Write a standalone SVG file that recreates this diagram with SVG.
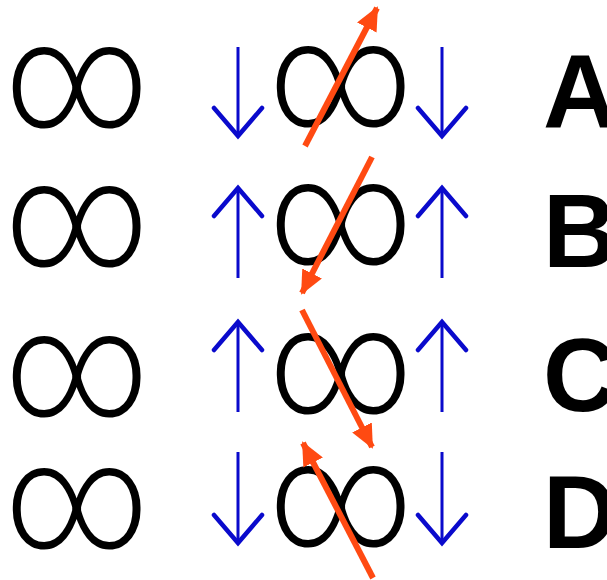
<svg xmlns="http://www.w3.org/2000/svg" width="607" height="580" viewBox="0 0 607 580">
<defs>
<style>
.inf{font-family:Roboto,"DejaVu Sans",sans-serif;font-size:120px;font-weight:300;text-anchor:middle;fill:#000}
.lbl{font-family:"Liberation Sans",Arial,sans-serif;font-size:103px;font-weight:bold;fill:#000}
.blue{stroke:#0a0acc;stroke-width:3;fill:none}
.bhead{stroke:#0a0acc;stroke-width:4.5;fill:none;stroke-linejoin:miter;stroke-linecap:round}
.orange{stroke:#ff4a12;stroke-width:6;fill:none;marker-end:url(#oh)}
</style>
<marker id="oh" markerUnits="userSpaceOnUse" viewBox="0 0 24 22" refX="22" refY="11" markerWidth="24" markerHeight="22" orient="auto">
<path d="M0,0 L24,11 L0,22 Z" fill="#ff4a12"/>
</marker>
</defs>
<rect width="607" height="580" fill="#fff"/>
<g id="row-a">
<text class="inf" transform="translate(77,87.5) scale(1.14,1.24)" y="32">∞</text>
<text class="inf" transform="translate(341,86.5) scale(1.14,1.24)" y="32">∞</text>
</g>
<g id="row-b">
<text class="inf" transform="translate(77,226) scale(1.14,1.24)" y="32">∞</text>
<text class="inf" transform="translate(341,224) scale(1.14,1.24)" y="32">∞</text>
</g>
<g id="row-c">
<text class="inf" transform="translate(77,376) scale(1.14,1.24)" y="32">∞</text>
<text class="inf" transform="translate(341,373.5) scale(1.14,1.24)" y="32">∞</text>
</g>
<g id="row-d">
<text class="inf" transform="translate(77,508.5) scale(1.14,1.24)" y="32">∞</text>
<text class="inf" transform="translate(341,506.5) scale(1.14,1.24)" y="32">∞</text>
</g>
<g id="labels">
<text class="lbl" x="543" y="127">A</text>
<text class="lbl" x="543" y="267">B</text>
<text class="lbl" x="543" y="411">C</text>
<text class="lbl" x="543" y="548">D</text>
</g>
<g id="connectors">
<g id="blue-arrows">
<path class="blue" d="M238,47 V136 M442,47 V136"/>
<path class="bhead" d="M214,108 L238,136 L262,108 M418,108 L442,136 L466,108"/>
<path class="blue" d="M238,187 V278 M442,187 V278"/>
<path class="bhead" d="M214,216 L238,188 L262,216 M418,216 L442,188 L466,216"/>
<path class="blue" d="M238,322 V412 M442,322 V412"/>
<path class="bhead" d="M214,350 L238,322 L262,350 M418,350 L442,322 L466,350"/>
<path class="blue" d="M238,452 V543 M442,452 V543"/>
<path class="bhead" d="M214,515 L238,543 L262,515 M418,515 L442,543 L466,515"/>
</g>
<g id="orange-arrows">
<line class="orange" x1="305" y1="146" x2="377" y2="8"/>
<line class="orange" x1="372" y1="157" x2="302" y2="293"/>
<line class="orange" x1="302" y1="310" x2="372" y2="447"/>
<line class="orange" x1="373" y1="578" x2="303" y2="443"/>
</g>
</g>
</svg>
